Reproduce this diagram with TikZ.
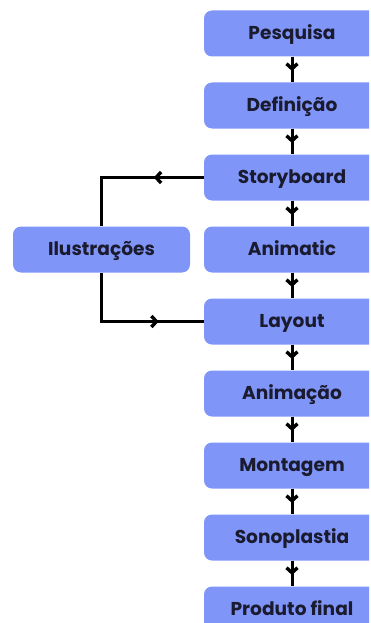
\documentclass[tikz,border=0pt]{standalone}
\usepackage{fontspec}
\setmainfont{Poppins}
\usetikzlibrary{arrows.meta,decorations.markings}
\definecolor{boxblue}{HTML}{7F95F8}
\definecolor{boxtext}{HTML}{1B1B2F}
\tikzset{
  barb/.tip={Straight Barb[length=5pt, width=11pt, line width=3.4pt]},
  stage/.style={draw=none, fill=boxblue, rounded corners=8pt,
    minimum width=176pt, minimum height=46pt, inner sep=0pt,
    text height=12.8pt, text depth=0pt,
    text=boxtext, font=\fontsize{18.6}{20}\selectfont\bfseries},
  side/.style={stage, minimum width=177pt},
  flow/.style={line width=3pt, line join=miter},
  midarrow/.style={flow, postaction={decorate}, decoration={markings,
    mark=at position #1 with {\arrow{barb}}}},
  midarrow/.default=0.56
}
\begin{document}
\begin{tikzpicture}[x=1pt, y=-1pt]
  \useasboundingbox (0,0) rectangle (371,623);
  \begin{scope}
    \clip (0,0) rectangle (369,623);
    % main pipeline, one stage every 72 units
    \node[stage] (pesq)  at (292, 33.5) {Pesquisa};
    \node[stage] (defin) at (292,105.5) {Definição};
    \node[stage] (story) at (292,177.5) {Storyboard};
    \node[stage] (anim)  at (292,249.5) {Animatic};
    \node[stage] (lay)   at (292,321.5) {Layout};
    \node[stage] (anima) at (292,393.5) {Animação};
    \node[stage] (mont)  at (292,465.5) {Montagem};
    \node[stage] (sono)  at (292,537.5) {Sonoplastia};
    \node[stage] (prod)  at (292,609.5) {Produto final};
  \end{scope}
  \node[side] (ilus) at (101.5,249.5) {Ilustrações};

  % vertical links between consecutive stages
  \foreach \a/\b in {pesq/defin, defin/story, story/anim, anim/lay,
                     lay/anima, anima/mont, mont/sono, sono/prod}
    \draw[midarrow] (\a.south) -- (\b.north);

  % branch out to the illustrations and back into the layout
  \coordinate (up) at (ilus.north |- story.west);
  \coordinate (dn) at (ilus.south |- lay.west);
  \draw[flow, postaction={decorate}, decoration={markings,
    mark=at position 50pt with {\arrow{barb}}}]
    (story.west) -- (up) -- (ilus.north);
  \draw[flow, postaction={decorate}, decoration={markings,
    mark=at position 106pt with {\arrow{barb}}}]
    (ilus.south) -- (dn) -- (lay.west);
\end{tikzpicture}
\end{document}
